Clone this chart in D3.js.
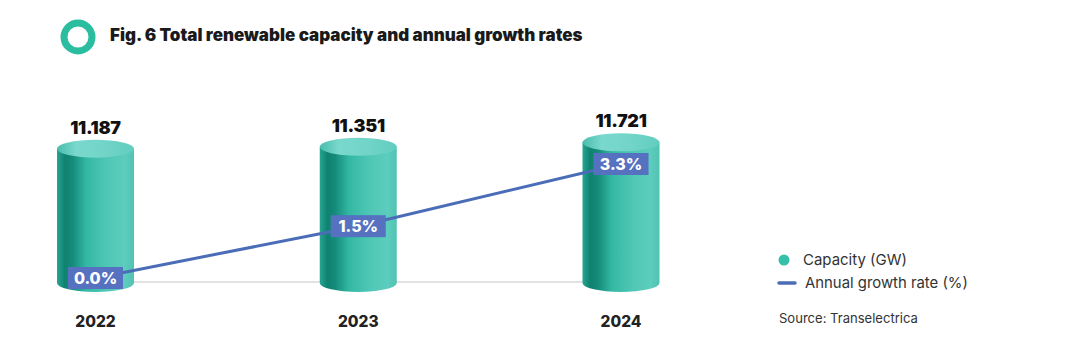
<!DOCTYPE html>
<html><head><meta charset="utf-8">
<script src="https://cdn.jsdelivr.net/npm/d3@7"></script>
<style>html,body{margin:0;padding:0;background:#fff;}svg{display:block;}</style>
</head><body>
<script>
const years = ["2022", "2023", "2024"];
const capacity = [11.187, 11.351, 11.721];
const capacityLabels = ["11.187", "11.351", "11.721"];
const growth = [0.0, 1.5, 3.3];
const growthLabels = ["0.0%", "1.5%", "3.3%"];
const titleText = "Fig. 6 Total renewable capacity and annual growth rates";
const legendItems = ["Capacity (GW)", "Annual growth rate (%)"];
const sourceText = "Source: Transelectrica";

const W = 1081, H = 360;
const FONT = "Inter, 'Liberation Sans', sans-serif";
const svg = d3.select("body").append("svg").attr("width", W).attr("height", H);
const defs = svg.append("defs");

function fit(sel, base, target) {
  const w = sel.node().getComputedTextLength();
  sel.attr("font-size", base * target / w);
}

const bodyGrad = defs.append("linearGradient").attr("id", "cylBody").attr("x1", "0").attr("x2", "1").attr("y1", "0").attr("y2", "0");
[[0, "#27a592"], [0.1, "#0f8270"], [0.2, "#158b7b"], [0.38, "#33b8a4"], [0.65, "#50c7b6"], [0.88, "#5ccdbe"], [1, "#52c2b1"]]
  .forEach(([o, c]) => bodyGrad.append("stop").attr("offset", o).attr("stop-color", c));
const topGrad = defs.append("linearGradient").attr("id", "cylTop").attr("x1", "0").attr("x2", "1").attr("y1", "0").attr("y2", "0");
[[0, "#49bdac"], [0.25, "#7ad8cd"], [0.6, "#72d5c8"], [1, "#62cdbf"]]
  .forEach(([o, c]) => topGrad.append("stop").attr("offset", o).attr("stop-color", c));

// Title
svg.append("circle").attr("cx", 78).attr("cy", 37).attr("r", 14).attr("fill", "none")
  .attr("stroke", "#2bbd9f").attr("stroke-width", 7);
const title = svg.append("text").attr("x", 110).attr("y", 41)
  .attr("font-family", FONT).attr("font-weight", 900)
  .attr("font-size", 15).attr("fill", "#1a1a1a").text(titleText);
fit(title, 15, 473);

// Scales
const x = d3.scalePoint().domain(years).range([95.5, 621]);
const y = d3.scaleLinear().domain([0, 12]).range([283, 139]);
const yg = d3.scaleLinear().domain([0, 3.3]).range([278, 164]);
const rx = 38.5, ry = 9;

// baseline
svg.append("line").attr("x1", x(years[0])).attr("x2", x(years[2])).attr("y1", 282).attr("y2", 282)
  .attr("stroke", "#d9d9d9").attr("stroke-width", 1.5);

// Cylinders
const cyl = svg.selectAll("g.cyl").data(years).enter().append("g").attr("class", "cyl");
cyl.append("path").attr("fill", "url(#cylBody)").attr("d", (d, i) => {
  const cx = x(d), yt = y(capacity[i]), yb = y(0);
  return `M${cx - rx},${yt} L${cx - rx},${yb} A${rx},${ry} 0 0 0 ${cx + rx},${yb} L${cx + rx},${yt} Z`;
});
cyl.append("ellipse").attr("cx", d => x(d)).attr("cy", (d, i) => y(capacity[i]))
  .attr("rx", rx).attr("ry", ry).attr("fill", "url(#cylTop)");
cyl.append("text").attr("x", d => x(d)).attr("y", (d, i) => y(capacity[i]) - ry - 6)
  .attr("text-anchor", "middle").attr("font-family", FONT)
  .attr("font-weight", 900).attr("font-size", 18).attr("fill", "#111")
  .attr("letter-spacing", -0.3)
  .text((d, i) => capacityLabels[i]);

// Year labels
svg.selectAll("text.year").data(years).enter().append("text").attr("class", "year")
  .attr("x", d => x(d)).attr("y", 327).attr("text-anchor", "middle")
  .attr("font-family", FONT).attr("font-weight", 800)
  .attr("font-size", 15.5).attr("fill", "#222").text(d => d);

// Growth line
const line = d3.line().x((d, i) => x(years[i])).y(d => yg(d));
svg.append("path").datum(growth).attr("d", line).attr("fill", "none")
  .attr("stroke", "#4b6cb7").attr("stroke-width", 3);
const lb = svg.selectAll("g.lb").data(growth).enter().append("g").attr("class", "lb")
  .attr("transform", (d, i) => `translate(${x(years[i])},${yg(d)})`);
lb.append("rect").attr("x", -27.5).attr("y", -11).attr("width", 55).attr("height", 22).attr("fill", "#5571c0");
lb.append("text").attr("y", 6).attr("text-anchor", "middle")
  .attr("font-family", FONT).attr("font-weight", 800)
  .attr("font-size", 16).attr("fill", "#fff").text((d, i) => growthLabels[i]);

// Legend
svg.append("circle").attr("cx", 784).attr("cy", 260).attr("r", 5.5).attr("fill", "#36bfa9");
svg.append("line").attr("x1", 779).attr("x2", 795).attr("y1", 283).attr("y2", 283)
  .attr("stroke", "#4b6cb7").attr("stroke-width", 3.5).attr("stroke-linecap", "round");
const legendTargets = [104, 163];
svg.selectAll("text.lg").data(legendItems).enter().append("text").attr("class", "lg")
  .attr("x", (d, i) => i === 0 ? 803 : 805).attr("y", (d, i) => i === 0 ? 265 : 287.5)
  .attr("font-family", FONT).attr("font-size", 15)
  .attr("fill", "#333").text(d => d)
  .each(function (d, i) { fit(d3.select(this), 15, legendTargets[i]); });
const src = svg.append("text").attr("x", 779).attr("y", 323)
  .attr("font-family", FONT).attr("font-size", 13)
  .attr("fill", "#333").text(sourceText);
fit(src, 13, 139);
</script>
</body></html>
